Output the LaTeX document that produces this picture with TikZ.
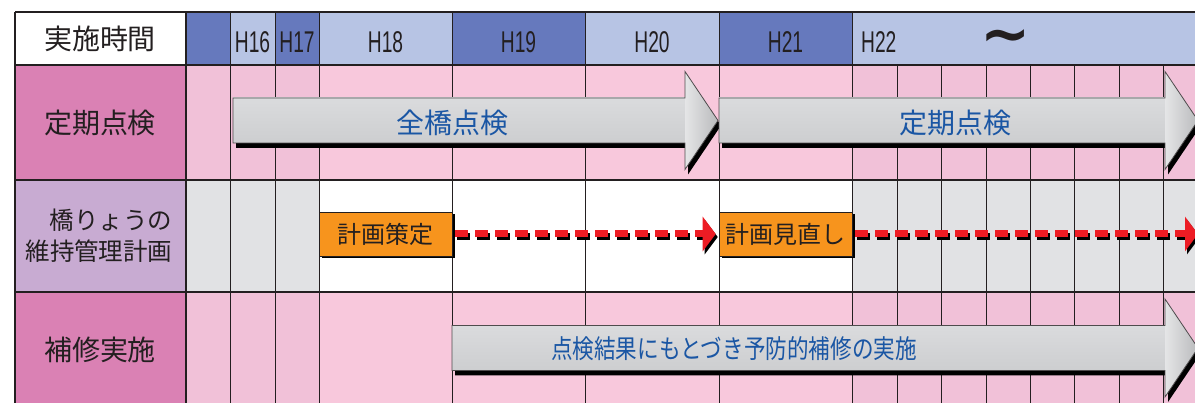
\documentclass[tikz,border=0pt]{standalone}
\usepackage{fontspec}
\setmainfont{Noto Sans CJK JP}
\newfontfamily\yearfont[FakeStretch=0.64]{Liberation Sans}
\newfontfamily\cjknarrow[FakeStretch=0.83]{Noto Sans CJK JP}
\newfontfamily\tildefont{DejaVu Sans}
\usetikzlibrary{arrows.meta,shadows}

\definecolor{hdrdark}{HTML}{6679BD}
\definecolor{hdrlight}{HTML}{B7C4E4}
\definecolor{labelpink}{HTML}{DA81B4}
\definecolor{labelpurple}{HTML}{C8ABD2}
\definecolor{cellpink}{HTML}{F8C8DC}
\definecolor{celldim}{HTML}{F1C1D8}
\definecolor{cellgray}{HTML}{E1E2E4}
\definecolor{planorange}{HTML}{F7941D}
\definecolor{planred}{HTML}{ED1C24}
\definecolor{textblue}{HTML}{1A56A4}
\definecolor{inkgray}{HTML}{231F20}
\definecolor{arrowtop}{HTML}{DADBDD}
\definecolor{arrowmid}{HTML}{F5F5F5}
\definecolor{arrowbot}{HTML}{CDCED0}
\definecolor{headdark}{HTML}{B9BABC}

\tikzset{
  cellline/.style={draw=inkgray, line width=0.9pt},
  rowline/.style={draw=inkgray, line width=1.6pt},
  headtext/.style={text=inkgray, font=\fontsize{28}{30}\selectfont},
  yeartext/.style={text=inkgray, inner sep=0pt, font=\yearfont\fontsize{30}{31}\selectfont},
  arrowtext/.style={text=textblue, font=\fontsize{28}{30}\selectfont},
  planbox/.style={rectangle, draw=inkgray, line width=0.6pt, fill=planorange,
    minimum width=133pt, minimum height=44pt, text=inkgray,
    font=\fontsize{24}{26}\selectfont,
    drop shadow={shadow xshift=2.5pt, shadow yshift=-2.5pt, fill=black, opacity=1}},
  planline/.style={draw=planred, line width=7pt, dash pattern=on 13pt off 7pt,
    -{Triangle[length=13pt, width=34pt]}, shorten <=3pt, shorten >=3pt},
  planshadow/.style={planline, draw=black}
}

% big grey arrow: left x, head base x, tip x, middle y
\newcommand{\gradarrow}[4]{%
  \fill[black, shift={(3,5)}] (#1,#4-22.5) -- (#2,#4-22.5) -- (#2,#4-49) -- (#3,#4)
    -- (#2,#4+49) -- (#2,#4+22.5) -- (#1,#4+22.5) -- cycle;
  \shade[top color=arrowtop, middle color=arrowmid, bottom color=arrowbot]
    (#1,#4-22.5) rectangle (#2+1,#4+22.5);
  \shade[left color=arrowtop!60!arrowmid, right color=headdark]
    (#2,#4-49) -- (#3,#4) -- (#2,#4+49) -- cycle;
  \draw[draw=inkgray!80, line width=0.8pt] (#1,#4-22.5) -- (#2,#4-22.5) -- (#2,#4-49) -- (#3,#4)
    -- (#2,#4+49) -- (#2,#4+22.5) -- (#1,#4+22.5) -- cycle;
}

\begin{document}
\begin{tikzpicture}[x=1pt, y=-1pt]
  \useasboundingbox (0,0) rectangle (1195,403);
  \clip (0,0) rectangle (1195,403);
  % Header cells
  \fill[white] (15,12) rectangle (186,65);
  \fill[hdrdark] (186,12) rectangle (230,65);
  \fill[hdrlight] (230,12) rectangle (275,65);
  \fill[hdrdark] (275,12) rectangle (319,65);
  \fill[hdrlight] (319,12) rectangle (452,65);
  \fill[hdrdark] (452,12) rectangle (585,65);
  \fill[hdrlight] (585,12) rectangle (719,65);
  \fill[hdrdark] (719,12) rectangle (852,65);
  \fill[hdrlight] (852,12) rectangle (1200,65);
  % Row cells
  \fill[labelpink] (15,65) rectangle (186,180);
  \fill[labelpurple] (15,180) rectangle (186,292);
  \fill[labelpink] (15,292) rectangle (186,410);
  \foreach \ya/\yb/\side/\mid in {65/180/celldim/cellpink, 180/292/cellgray/white, 292/410/celldim/cellpink} {
    \fill[\side] (186,\ya) rectangle (319,\yb);
    \fill[\mid] (319,\ya) rectangle (852,\yb);
    \fill[\side] (852,\ya) rectangle (1200,\yb);
  }
  % Lines
  \foreach \x in {230,275,319,452,585,719,852}
    \draw[cellline] (\x,12) -- (\x,410);
  \foreach \x in {897,941,986,1030,1074,1119,1163}
    \draw[cellline] (\x,65) -- (\x,410);
  \foreach \y in {12,65,180,292}
    \draw[rowline] (15,\y) -- (1200,\y);
  \draw[rowline] (15,12) -- (15,410);
  \draw[rowline] (186,12) -- (186,410);
  % Header text
  \node (timehead) [headtext] at (100,39) {実施時間};
  \node (h16) [yeartext] at (252.5,42.5) {H16};
  \node (h17) [yeartext] at (297,42.5) {H17};
  \node (h18) [yeartext] at (385.5,42.5) {H18};
  \node (h19) [yeartext] at (518.5,42.5) {H19};
  \node (h20) [yeartext] at (652,42.5) {H20};
  \node (h21) [yeartext] at (785.5,42.5) {H21};
  \node (h22) [yeartext, anchor=west] at (861,42.5) {H22};
  \node (onward) [text=inkgray, inner sep=0pt, font=\tildefont\bfseries\fontsize{60}{60}\selectfont] at (1006,42) {\char"007E};
  % Row labels
  \node (inspect) [headtext] at (100,123) {定期点検};
  \node (upkeep) [headtext, font=\fontsize{24.5}{31}\selectfont, align=right] at (99,236) {橋りょうの\\維持管理計画};
  \node (repair) [headtext] at (100,350) {補修実施};
  % Arrows
  \gradarrow{233}{685}{718}{120.5}
  \gradarrow{719}{1165}{1198}{120.5}
  \gradarrow{452}{1165}{1198}{348}
  \node (allcheck) [arrowtext] at (452.5,123) {全橋点検};
  \node (regcheck) [arrowtext] at (955,123) {定期点検};
  \node (repairtext) [arrowtext, font=\cjknarrow\fontsize{26}{28}\selectfont] at (734,349) {点検結果にもとづき予防的補修の実施};
  % Plans
  \node (plan1) [planbox] at (385.5,234) {計画策定};
  \node (plan2) [planbox] at (785.5,234) {計画見直し};
  \coordinate (planend) at (1201,234);
  \draw[planshadow] ([shift={(2,3)}]plan1.east) -- ([shift={(2,3)}]plan2.west);
  \draw[planline] (plan1.east) -- (plan2.west);
  \draw[planshadow] ([shift={(2,3)}]plan2.east) -- ([shift={(2,3)}]planend);
  \draw[planline] (plan2.east) -- (planend);
\end{tikzpicture}
\end{document}
